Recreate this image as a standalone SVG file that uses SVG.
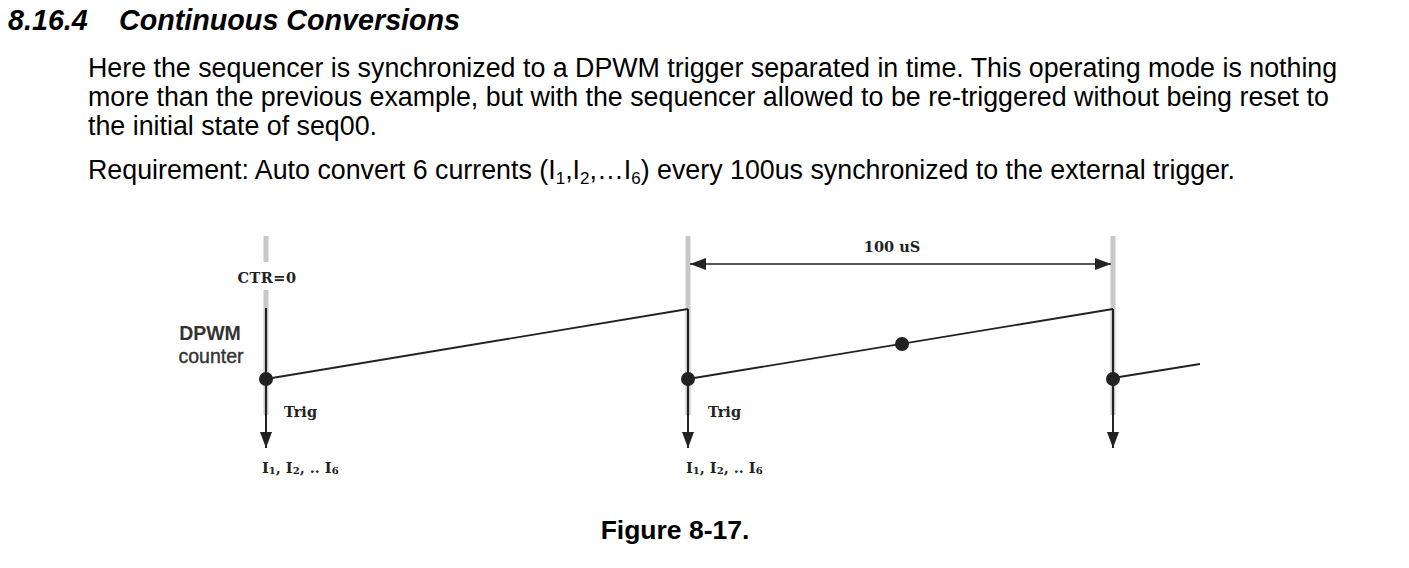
<svg xmlns="http://www.w3.org/2000/svg" width="1409" height="568" viewBox="0 0 1409 568">
<style>
.body{font-family:"Liberation Sans",Arial,sans-serif;font-size:26.8px;fill:#000}
.h{font-family:"Liberation Sans",Arial,sans-serif;font-size:28.7px;font-weight:bold;font-style:italic;fill:#000}
.lbl{font-family:"DejaVu Serif","Liberation Serif",serif;font-size:14.5px;font-weight:bold;fill:#222}
.side{font-family:"Liberation Sans",Arial,sans-serif;font-size:19.5px;fill:#333}
.grey{stroke:#c8c8c8;stroke-width:5;fill:none}
.blk{stroke:#222;stroke-width:2;fill:none}
.ramp{stroke:#222;stroke-width:1.8;fill:none}
.dot{fill:#222}
</style>
<defs>
<marker id="down" viewBox="0 0 12 16" refX="6" refY="16" markerWidth="12" markerHeight="16" markerUnits="userSpaceOnUse" orient="0"><path d="M0,0 L12,0 L6,16 Z" fill="#222"/></marker>
<marker id="dl" viewBox="0 0 16 12" refX="0" refY="6" markerWidth="16" markerHeight="12" markerUnits="userSpaceOnUse" orient="0"><path d="M0,6 L16,0 L16,12 Z" fill="#222"/></marker>
<marker id="dr" viewBox="0 0 16 12" refX="16" refY="6" markerWidth="16" markerHeight="12" markerUnits="userSpaceOnUse" orient="0"><path d="M16,6 L0,0 L0,12 Z" fill="#222"/></marker>
</defs>
<g id="text">
<text class="h" x="8" y="30">8.16.4<tspan x="119">Continuous Conversions</tspan></text>
<text class="body" x="88" y="77">Here the sequencer is synchronized to a DPWM trigger separated in time. This operating mode is nothing</text>
<text class="body" x="88" y="106">more than the previous example, but with the sequencer allowed to be re-triggered without being reset to</text>
<text class="body" x="88" y="135">the initial state of seq00.</text>
<text class="body" x="88" y="179">Requirement: Auto convert 6 currents (I<tspan font-size="17" dy="5">1</tspan><tspan dy="-5">,I</tspan><tspan font-size="17" dy="5">2</tspan><tspan dy="-5">,…I</tspan><tspan font-size="17" dy="5">6</tspan><tspan dy="-5">) every 100us synchronized to the external trigger.</tspan></text>
<text x="675" y="539" text-anchor="middle" style="font-family:'Liberation Sans',Arial,sans-serif;font-size:26.5px;font-weight:bold">Figure 8-17.</text>
</g>
<g id="axis1">
<line class="grey" x1="266" y1="236" x2="266" y2="262"/>
<line class="grey" x1="266" y1="290" x2="266" y2="415"/>
<line class="blk" x1="266" y1="308" x2="266" y2="448" marker-end="url(#down)"/>
<circle class="dot" cx="266" cy="379" r="7"/>
<text class="lbl" x="267" y="283" text-anchor="middle" letter-spacing="0.5">CTR=0</text>
<text class="side" x="210" y="340" text-anchor="middle" font-weight="bold">DPWM</text>
<text class="side" x="211" y="363" text-anchor="middle" stroke="#333" stroke-width="0.4">counter</text>
<text class="lbl" x="284" y="417">Trig</text>
<text class="lbl" x="262" y="473">I<tspan font-size="10" dy="1">1</tspan><tspan dy="-1">, I</tspan><tspan font-size="10" dy="1">2</tspan><tspan dy="-1">, .. I</tspan><tspan font-size="10" dy="1">6</tspan></text>
</g>
<g id="axis2">
<line class="grey" x1="688" y1="236" x2="688" y2="415"/>
<line class="blk" x1="688" y1="309" x2="688" y2="448" marker-end="url(#down)"/>
<circle class="dot" cx="688" cy="379" r="7"/>
<text class="lbl" x="708" y="417">Trig</text>
<text class="lbl" x="686" y="473">I<tspan font-size="10" dy="1">1</tspan><tspan dy="-1">, I</tspan><tspan font-size="10" dy="1">2</tspan><tspan dy="-1">, .. I</tspan><tspan font-size="10" dy="1">6</tspan></text>
</g>
<g id="axis3">
<line class="grey" x1="1113" y1="236" x2="1113" y2="415"/>
<line class="blk" x1="1113" y1="309" x2="1113" y2="448" marker-end="url(#down)"/>
<circle class="dot" cx="1113" cy="379" r="7"/>
</g>
<g id="connectors">
<polyline class="ramp" points="266,379 688,309"/>
<polyline class="ramp" points="688,379 1113,309"/>
<polyline class="ramp" points="1113,378 1200,364"/>
<circle class="dot" cx="902" cy="344" r="7"/>
<line stroke="#222" stroke-width="1.5" x1="690" y1="264" x2="1111" y2="264" marker-start="url(#dl)" marker-end="url(#dr)"/>
<text class="lbl" x="892" y="252" text-anchor="middle">100 uS</text>
</g>
</svg>
